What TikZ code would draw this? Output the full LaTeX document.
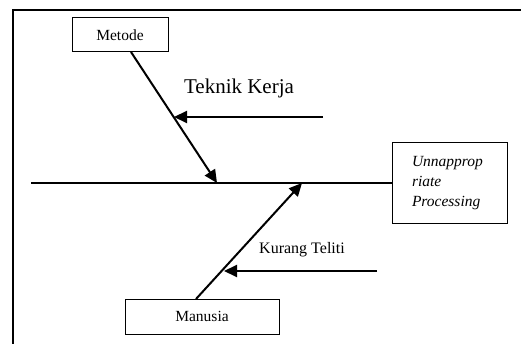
\documentclass[tikz,border=0pt]{standalone}
\usepackage{fontspec}
\setmainfont{Liberation Serif}
\usetikzlibrary{arrows.meta,calc}
\begin{document}
\begin{tikzpicture}[x=1pt,y=-1pt,
  box/.style={draw,line width=1pt,inner sep=0pt,font=\fontsize{15.5}{18}\selectfont},
  bone/.style={line width=2pt,-{Triangle[length=13pt,width=12pt]}},
  lbl/.style={inner sep=0pt}]
\useasboundingbox (0,0) rectangle (521,344);
\fill[white] (0,0) rectangle (521,344);
% frame
\draw[line width=2pt] (13,350) -- (13,10) -- (530,10);
% nodes
\node[box,minimum width=96pt,minimum height=34pt] (metode) at (120,35) {\raisebox{-3pt}{Metode}};
\node[box,minimum width=154pt,minimum height=35pt] (manusia) at (202,316.5) {\raisebox{-1pt}{Manusia}};
\node[box,minimum width=115pt,minimum height=81pt,text width=75pt,inner xsep=20pt,align=left,
      font=\fontsize{15.5}{20}\selectfont\itshape] (effect) at (449.5,183.5) {Unnapprop\\riate\\Processing};
\node[lbl,font=\fontsize{21}{25}\selectfont] (tk) at (239,88) {Teknik Kerja};
\node[lbl,font=\fontsize{16}{19}\selectfont] (kt) at (302,250) {Kurang Teliti};
% coordinates
\coordinate (spineL) at (31,183);
\coordinate (mstart) at (131,52);
\coordinate (mtip) at (217,183);
\coordinate (nstart) at (196,299);
\coordinate (ntip) at (302,183);
\coordinate (tkS) at (323,117);
\coordinate (tkE) at (174,117);
\coordinate (ktS) at (377,271);
\coordinate (ktE) at (224,271);
% spine
\draw[line width=2pt] (spineL) -- (effect.west |- spineL);
% bones
\draw[bone] (mstart) -- (mtip);
\draw[bone] (nstart) -- (ntip);
\draw[bone] (tkS) -- (tkE);
\draw[bone] (ktS) -- (ktE);
\end{tikzpicture}
\end{document}
